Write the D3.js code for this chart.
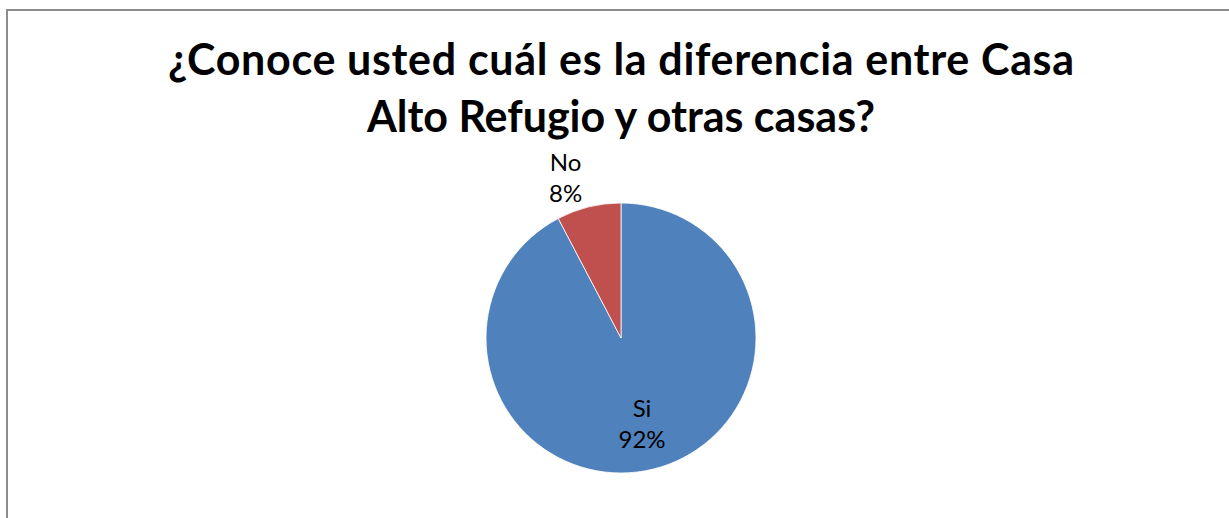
<!DOCTYPE html>
<html>
<head>
<meta charset="utf-8">
<script src="https://cdn.jsdelivr.net/npm/d3@7"></script>
<style>
  html, body { margin: 0; padding: 0; background: #fff; overflow: hidden; }
  svg { display: block; }
</style>
</head>
<body>
<svg id="chart" width="1229" height="518"></svg>
<script>
// chart data
const categories = ["Si", "No"];
const counts = [12, 1];
const percentLabels = ["92%", "8%"];
const colors = ["#4F81BD", "#C0504D"];
const titleLines = ["¿Conoce usted cuál es la diferencia entre Casa", "Alto Refugio y otras casas?"];

const svg = d3.select("#chart");
const cx = 621, cy = 338, r = 135;

// outer frame (only left and top edges fall inside the picture)
svg.append("rect")
    .attr("x", 7).attr("y", 10)
    .attr("width", 1400).attr("height", 700)
    .attr("fill", "#fff")
    .attr("stroke", "#8c8c8c").attr("stroke-width", 2);

// title - Calibri isn't installed; widen only the first line a bit to the original width
const title = svg.append("g").selectAll("text")
    .data(titleLines)
    .enter().append("text")
    .attr("x", cx)
    .attr("y", (d, i) => 75 + i * 57)
    .attr("text-anchor", "middle")
    .attr("font-family", "Lato, 'Open Sans', sans-serif")
    .attr("font-weight", "bold")
    .attr("font-size", 43)
    .attr("fill", "#000")
    .text(d => d);
title.filter((d, i) => i === 0)
    .attr("textLength", 906)
    .attr("lengthAdjust", "spacing");

const data = categories.map((c, i) => ({ name: c, value: counts[i], pct: percentLabels[i], color: colors[i] }));

const pie = d3.pie().sort(null).value(d => d.value);
const arcs = pie(data);
const arc = d3.arc().innerRadius(0).outerRadius(r);

const g = svg.append("g").attr("transform", `translate(${cx},${cy})`);

g.selectAll("path.slice")
    .data(arcs)
    .enter().append("path")
    .attr("class", "slice")
    .attr("d", arc)
    .attr("fill", d => d.data.color)
    .attr("stroke", "#fff")
    .attr("stroke-width", 0.8);

// labels: big slice inside, small slice outside (best fit)
const insideArc = d3.arc().innerRadius(r * 0.65).outerRadius(r * 0.65);
const edgeArc = d3.arc().innerRadius(r + 2).outerRadius(r + 2);
const fontSize = 24, lineGap = 31;

arcs.forEach(a => {
    const lab = g.append("g");
    lab.selectAll("text")
        .data([a.data.name, a.data.pct])
        .enter().append("text")
        .attr("text-anchor", "middle")
        .attr("y", (d, i) => i * lineGap)
        .attr("font-family", "Lato, 'Open Sans', sans-serif")
        .attr("font-size", fontSize)
        .attr("fill", "#000")
        .text(d => d);
    const bb = lab.node().getBBox();
    const big = (a.endAngle - a.startAngle) > Math.PI / 4;
    let x, y;
    if (big) {
        [x, y] = insideArc.centroid(a);
        y = y - bb.height / 2 - bb.y;
    } else {
        const [px, py] = edgeArc.centroid(a);
        // box sits up-left of the edge point
        x = px - bb.width / 2 - 6;
        y = py - bb.height - bb.y + 2;
    }
    lab.attr("transform", `translate(${x},${y})`);
});
</script>
</body>
</html>
